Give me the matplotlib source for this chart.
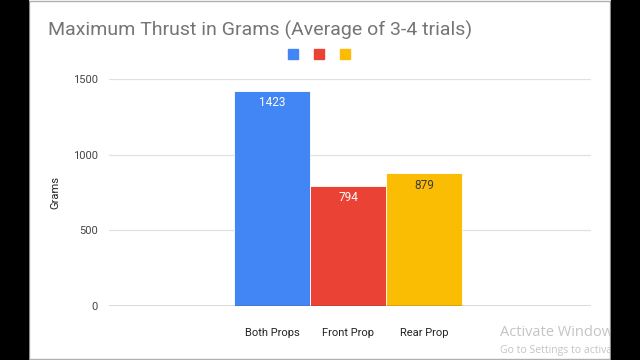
import matplotlib
matplotlib.use("Agg")
from matplotlib import pyplot as plt
from matplotlib.patches import Rectangle
from matplotlib.lines import Line2D

categories = ["Both Props", "Front Prop", "Rear Prop"]
thrust = [1423, 794, 879]
colors = ["#4285F4", "#EA4335", "#FBBC04"]
label_colors = ["white", "white", "#3c3c3c"]
y_ticks = [0, 500, 1000, 1500]

plt.rcParams["font.family"] = ["Roboto", "DejaVu Sans"]

W, H = 640, 360
fig = plt.figure(figsize=(6.4, 3.6), dpi=100)
fig.patch.set_facecolor("white")

# plot area in pixels: x 109..591, y 79 (1500) .. 306 (0)
ax = fig.add_axes([109 / W, 1 - 306 / H, (591 - 109) / W, (306 - 79) / H])
ax.set_facecolor("white")

xpos = list(range(len(categories)))
bars = ax.bar(xpos, thrust, width=1.0, color=colors, edgecolor="white",
              linewidth=0.6, zorder=3)
ax.set_xlim(1 - 3.145, 1 + 3.197)
ax.set_ylim(0, 1500)

for b, v, c in zip(bars, thrust, label_colors):
    ax.annotate(str(v), (b.get_x() + b.get_width() / 2, v), xytext=(0, -4),
                textcoords="offset points", ha="center", va="top",
                fontsize=8.5, color=c, zorder=4)

ax.set_yticks(y_ticks)
ax.set_yticklabels([str(t) for t in y_ticks], fontsize=8, color="#444444")
ax.set_xticks(xpos)
ax.set_xticklabels(categories, fontsize=8, color="#222222")
ax.tick_params(axis="both", length=0)
ax.tick_params(axis="y", pad=8)
ax.tick_params(axis="x", pad=16)
for t in y_ticks[1:]:
    ax.axhline(t, color="#e0e0e0", lw=0.9, zorder=1)
ax.axhline(0, color="#444444", lw=1.0, zorder=5)
for s in ax.spines.values():
    s.set_visible(False)
ax.set_ylabel("Grams", fontsize=8, color="#222222", labelpad=9)

fig.text(48 / W, 1 - 30 / H, "Maximum Thrust in Grams (Average of 3-4 trials)",
         fontsize=14, color="#757575", ha="left", va="center")

handles = [Line2D([], [], marker="s", linestyle="none", markersize=7.5,
                  markerfacecolor=c, markeredgecolor=c) for c in colors]
fig.legend(handles, ["", "", ""], loc="center", bbox_to_anchor=(319 / W, 1 - 55 / H),
           ncol=3, frameon=False, handletextpad=0, columnspacing=0.9,
           handlelength=1.0)

# screen-capture watermark
fig.text(500 / W, 1 - 333 / H, "Activate Windows", fontsize=10.5,
         color="#c4c4c4", ha="left", va="center", family=["Open Sans", "DejaVu Sans"])
fig.text(500 / W, 1 - 351 / H, "Go to Settings to activate Windows.", fontsize=7.5,
         color="#c4c4c4", ha="left", va="center", family=["Open Sans", "DejaVu Sans"])

# frame of the screenshot
fig.patches.append(Rectangle((28.5 / W, 1 - 358.5 / H), (609.5 - 28.5) / W, (358.5 - 1) / H,
                             transform=fig.transFigure, fill=False,
                             edgecolor="#b0b0b0", lw=1, zorder=9))
fig.patches.append(Rectangle((0, 0), 28 / W, 1, transform=fig.transFigure,
                             color="black", zorder=10))
fig.patches.append(Rectangle((611 / W, 0), 29 / W, 1, transform=fig.transFigure,
                             color="black", zorder=10))

fig.savefig("out.png", dpi=100)
